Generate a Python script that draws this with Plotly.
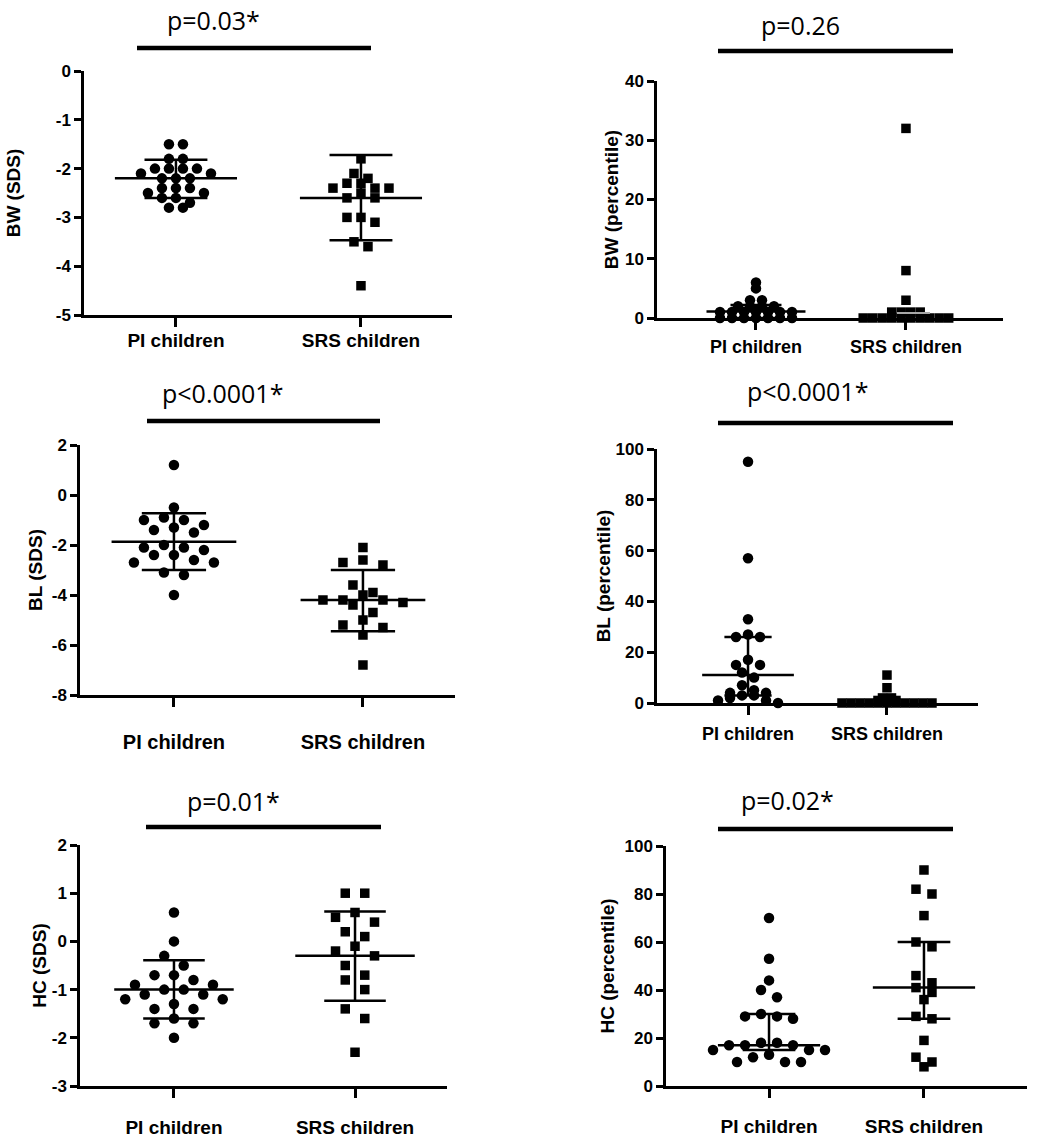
import plotly.graph_objects as go
import numpy as np

W, H = 1040, 1147

categories = ["PI children", "SRS children"]

# ---- data ----
bw_sds_pi = [-1.5, -1.5, -1.8, -1.8, -2.0, -2.0, -2.0, -2.0, -2.1, -2.1, -2.2, -2.2, -2.2,
             -2.4, -2.4, -2.4, -2.5, -2.5, -2.6, -2.6, -2.7, -2.8, -2.8]
bw_sds_srs = [-1.8, -2.1, -2.2, -2.3, -2.3, -2.4, -2.4, -2.4, -2.5, -2.6, -2.6, -3.0, -3.0,
              -3.1, -3.5, -3.6, -4.4]
bw_sds_stats = [(-2.2, -2.6, -1.82), (-2.6, -3.47, -1.72)]

bw_pct_pi = [6, 5, 3, 3, 2, 2, 2, 2, 1, 1, 1, 1, 1, 1, 1, 0, 0, 0, 0, 0, 0, 0]
bw_pct_srs = [32, 8, 3, 1, 1, 1, 1, 0, 0, 0, 0, 0, 0, 0, 0, 0, 0]
bw_pct_stats = [(1.1, 0.0, 2.2), None]
bw_pct_srs_gray = 0.85

bl_sds_pi = [1.2, -0.5, -0.9, -1.0, -1.0, -1.2, -1.3, -1.4, -1.5, -2.0, -2.1, -2.1, -2.2,
             -2.4, -2.4, -2.6, -2.7, -2.7, -3.1, -3.2, -4.0]
bl_sds_srs = [-2.1, -2.6, -2.7, -2.8, -3.6, -3.9, -4.0, -4.2, -4.2, -4.2, -4.3, -4.4, -4.7,
              -5.0, -5.2, -5.3, -5.6, -6.8]
bl_sds_stats = [(-1.87, -3.0, -0.73), (-4.2, -5.45, -3.0)]

bl_pct_pi = [95, 57, 33, 27, 26, 26, 17, 15, 15, 12, 10, 7, 5, 4, 4, 3, 3, 2, 1, 1, 0]
bl_pct_srs = [11, 6, 2, 2, 1, 1, 1, 0, 0, 0, 0, 0, 0, 0, 0, 0, 0, 0]
bl_pct_stats = [(11, 3, 26), None]

hc_sds_pi = [0.6, 0.0, -0.3, -0.5, -0.7, -0.7, -0.8, -0.9, -0.9, -1.0, -1.0, -1.1, -1.1,
             -1.2, -1.2, -1.3, -1.4, -1.4, -1.6, -1.7, -1.7, -2.0]
hc_sds_srs = [1.0, 1.0, 0.6, 0.5, 0.4, 0.2, 0.1, -0.1, -0.2, -0.3, -0.5, -0.7, -0.8, -1.0,
              -1.4, -1.6, -2.3]
hc_sds_stats = [(-1.0, -1.6, -0.39), (-0.3, -1.23, 0.62)]

hc_pct_pi = [70, 53, 44, 40, 37, 30, 29, 29, 28, 18, 18, 17, 17, 17, 15, 15, 15, 13, 12,
             10, 10, 10]
hc_pct_srs = [90, 82, 80, 71, 60, 58, 46, 43, 41, 39, 36, 29, 28, 19, 12, 10, 8]
hc_pct_stats = [(17, 15, 30), (41, 28, 60)]

y_titles = ["BW (SDS)", "BW (percentile)", "BL (SDS)", "BL (percentile)", "HC (SDS)", "HC (percentile)"]
p_texts = ["p=0.03*", "p=0.26", "p<0.0001*", "p<0.0001*", "p=0.01*", "p=0.02*"]

# ---- layout / style (pixels in the 1040x1147 page) ----
panels = [
    dict(pi=bw_sds_pi, srs=bw_sds_srs, stats=bw_sds_stats, yr=(-5, 0), dt=1,
         box=(84, 452, 71, 315), xr=(-0.497, 1.492), sp=(14, 14), row=(9, 9), xstand=-3, tfs=17, xfs=19,
         ystand=31, ppos=(213, 20), bar=(137, 371, 48)),
    dict(pi=bw_pct_pi, srs=bw_pct_srs, stats=bw_pct_stats, yr=(0, 40), dt=10,
         box=(657, 1003, 81, 318), xr=(-0.66, 1.647), sp=(12, 9.5), row=(3, 3), xstand=2, tfs=17, xfs=18,
         ystand=2, ppos=(800, 25), bar=(718, 953, 51)),
    dict(pi=bl_sds_pi, srs=bl_sds_srs, stats=bl_sds_stats, yr=(-8, 2), dt=2,
         box=(80, 455, 445, 695), xr=(-0.497, 1.487), sp=(20, 20), row=(10, 10), xstand=18, tfs=17, xfs=20,
         ystand=5, ppos=(222, 393), bar=(147, 380, 421)),
    dict(pi=bl_pct_pi, srs=bl_pct_srs, stats=bl_pct_stats, yr=(0, 100), dt=20,
         box=(657, 978, 449, 703), xr=(-0.655, 1.655), sp=(12, 9), row=(8, 2), xstand=4, tfs=17, xfs=18,
         ystand=0, ppos=(807, 391), bar=(718, 953, 423)),
    dict(pi=hc_sds_pi, srs=hc_sds_srs, stats=hc_sds_stats, yr=(-3, 2), dt=1,
         box=(80, 447, 845, 1086), xr=(-0.519, 1.508), sp=(19.5, 19.5), row=(10, 10), xstand=13, tfs=17, xfs=19,
         ystand=1, ppos=(233, 801), bar=(146, 381, 827)),
    dict(pi=hc_pct_pi, srs=hc_pct_srs, stats=hc_pct_stats, yr=(0, 100), dt=20,
         box=(666, 1027, 846, 1086), xr=(-0.665, 1.665), sp=(16, 16), row=(8, 8), xstand=12, tfs=17, xfs=19,
         ystand=5, ppos=(787, 800), bar=(718, 953, 829)),
]

FAM = "Liberation Sans, Arial, sans-serif"


def xp(px):
    return px / W


def yp(py):
    return 1 - py / H


def swarm(values, upy, row_px, sp_px, upx):
    vals = np.asarray(values, float)
    order = np.argsort(-vals, kind="stable")
    offs = np.zeros(len(vals))
    rows, cur, start = [], [], None
    for i in order:
        py = vals[i] * upy
        if cur and (start - py) < row_px:
            cur.append(i)
        else:
            if cur:
                rows.append(cur)
            cur, start = [i], py
    if cur:
        rows.append(cur)
    for r in rows:
        n = len(r)
        slots = sorted([k - (n - 1) / 2 for k in range(n)], key=lambda s: (abs(s), s))
        for i, s in zip(r, slots):
            offs[i] = s * sp_px / upx
    return offs


def fmt(v):
    return "<b>" + ("%g" % v) + "</b>"


fig = go.Figure()
layout = dict(width=W, height=H, margin=dict(l=0, r=0, t=0, b=0), showlegend=False,
              plot_bgcolor="white", paper_bgcolor="white",
              font=dict(family=FAM, color="black"))
annotations, shapes = [], []

for k, p in enumerate(panels):
    n = "" if k == 0 else str(k + 1)
    xa, ya = "x" + n, "y" + n
    L, R, T, B = p["box"]
    upx = (R - L) / (p["xr"][1] - p["xr"][0])
    upy = (B - T) / (p["yr"][1] - p["yr"][0])
    for ci, (vals, sym) in enumerate([(p["pi"], "circle"), (p["srs"], "square")]):
        offs = swarm(vals, upy, p["row"][ci], p["sp"][ci], upx)
        fig.add_trace(go.Scatter(x=ci + offs, y=vals, mode="markers", xaxis=xa, yaxis=ya,
                                 cliponaxis=False,
                                 marker=dict(symbol=sym, size=10.5 if sym == "circle" else 9.5,
                                             color="black", line=dict(width=0))))
        st = p["stats"][ci]
        if st is not None:
            m, lo, hi = st
            lx = [ci - 0.33, ci + 0.33, None, ci - 0.17, ci + 0.17, None,
                  ci - 0.17, ci + 0.17, None, ci, ci]
            ly = [m, m, None, lo, lo, None, hi, hi, None, lo, hi]
            fig.add_trace(go.Scatter(x=lx, y=ly, mode="lines", xaxis=xa, yaxis=ya,
                                     cliponaxis=False,
                                     line=dict(color="black", width=2.5)))
    if k == 1:
        fig.add_trace(go.Scatter(x=[1 - 0.06, 1 + 0.16], y=[bw_pct_srs_gray] * 2, mode="lines",
                                 xaxis=xa, yaxis=ya, line=dict(color="#a8a8a8", width=2)))

    yt = list(np.arange(p["yr"][0], p["yr"][1] + p["dt"] / 2, p["dt"]))
    layout["xaxis" + n] = dict(domain=[xp(L), xp(R)], range=list(p["xr"]), anchor=ya,
                               showgrid=False, zeroline=False, showline=True, linecolor="black",
                               linewidth=2.5, ticks="outside", ticklen=9, tickwidth=2.5,
                               tickcolor="black", tickvals=[0, 1],
                               ticktext=["<b>%s</b>" % c for c in categories],
                               ticklabelstandoff=p["xstand"],
                               tickfont=dict(size=p["xfs"], family=FAM, color="black"))
    layout["yaxis" + n] = dict(domain=[yp(B), yp(T)], range=list(p["yr"]), anchor=xa,
                               showgrid=False, zeroline=False, showline=True, linecolor="black",
                               linewidth=2.5, ticks="outside", ticklen=7, tickwidth=2.5,
                               tickcolor="black", tickvals=yt, ticktext=[fmt(v) for v in yt],
                               tickfont=dict(size=p["tfs"], family=FAM, color="black"),
                               title=dict(text="<b>%s</b>" % y_titles[k], standoff=p["ystand"],
                                          font=dict(size=19, family=FAM, color="black")),
                               automargin=False)
    annotations.append(dict(text=p_texts[k], x=xp(p["ppos"][0]), y=yp(p["ppos"][1]),
                            xref="paper", yref="paper", showarrow=False,
                            xanchor="center", yanchor="middle",
                            font=dict(size=25, family="Open Sans, sans-serif", color="black")))
    bx0, bx1, by = p["bar"]
    shapes.append(dict(type="line", xref="paper", yref="paper", x0=xp(bx0), x1=xp(bx1),
                       y0=yp(by), y1=yp(by), line=dict(color="black", width=4.5)))

layout["annotations"] = annotations
layout["shapes"] = shapes
fig.update_layout(**layout)

fig.write_html("out.html", config={"displayModeBar": False},
               post_script="document.body.style.margin='0';document.documentElement.style.overflow='hidden';")
